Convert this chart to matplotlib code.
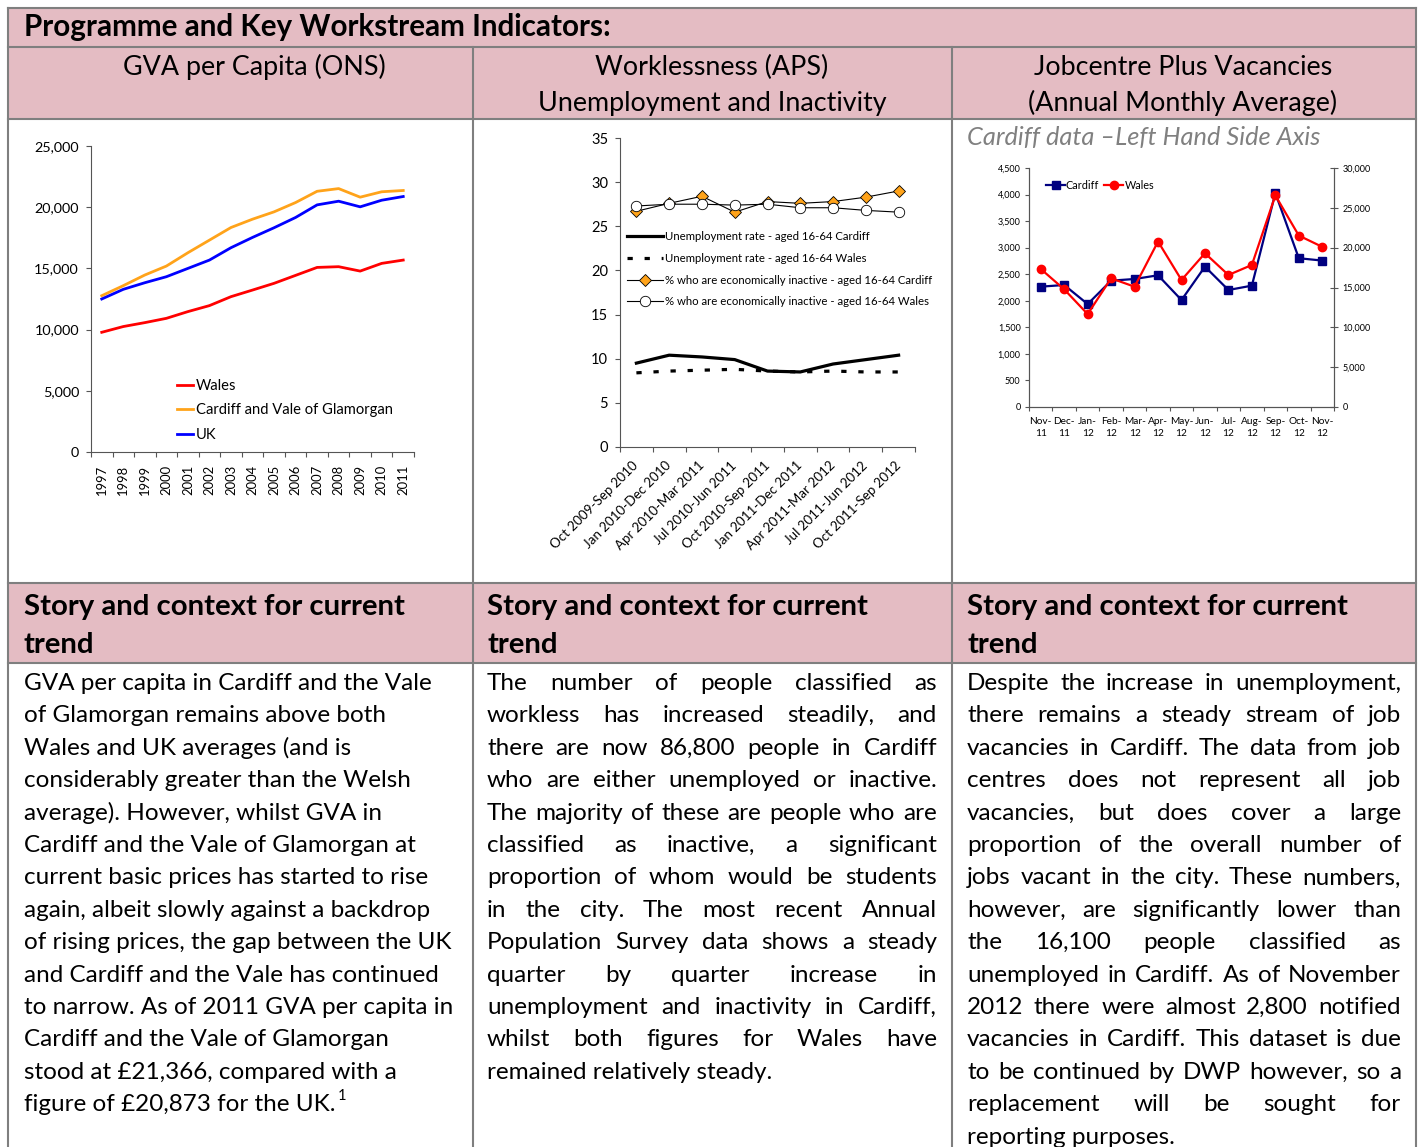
import numpy as np
import matplotlib
matplotlib.use('Agg')
import matplotlib.pyplot as plt
from matplotlib.patches import Rectangle
from matplotlib.ticker import FuncFormatter

W, H = 1421, 1147
plt.rcParams['font.family'] = ['Lato', 'DejaVu Sans']
plt.rcParams['lines.scale_dashes'] = False

# GVA per capita (ONS)
gva_years = ['1997', '1998', '1999', '2000', '2001', '2002', '2003', '2004',
             '2005', '2006', '2007', '2008', '2009', '2010', '2011']
gva_wales = [9780, 10250, 10570, 10920, 11470, 11960, 12690, 13230,
             13780, 14430, 15080, 15140, 14780, 15410, 15680]
gva_cardiff = [12770, 13590, 14460, 15190, 16280, 17310, 18340, 19020,
               19620, 20380, 21300, 21520, 20820, 21260, 21366]
gva_uk = [12500, 13290, 13830, 14320, 15000, 15680, 16690, 17530,
          18320, 19160, 20190, 20490, 20030, 20570, 20873]

# Worklessness (APS)
aps_periods = ['Oct 2009-Sep 2010', 'Jan 2010-Dec 2010', 'Apr 2010-Mar 2011',
               'Jul 2010-Jun 2011', 'Oct 2010-Sep 2011', 'Jan 2011-Dec 2011',
               'Apr 2011-Mar 2012', 'Jul 2011-Jun 2012', 'Oct 2011-Sep 2012']
unemp_cardiff = [9.5, 10.4, 10.2, 9.9, 8.6, 8.5, 9.4, 9.9, 10.4]
unemp_wales = [8.4, 8.6, 8.7, 8.8, 8.6, 8.5, 8.6, 8.5, 8.5]
inact_cardiff = [26.7, 27.6, 28.4, 26.6, 27.8, 27.6, 27.8, 28.3, 29.0]
inact_wales = [27.3, 27.5, 27.5, 27.4, 27.5, 27.1, 27.1, 26.8, 26.6]
aps_names = ['Unemployment rate - aged 16-64 Cardiff',
             'Unemployment rate - aged 16-64 Wales',
             '% who are economically inactive - aged 16-64 Cardiff',
             '% who are economically inactive - aged 16-64 Wales']

# Jobcentre Plus vacancies
jcp_months = ['Nov-\n11', 'Dec-\n11', 'Jan-\n12', 'Feb-\n12', 'Mar-\n12', 'Apr-\n12',
              'May-\n12', 'Jun-\n12', 'Jul-\n12', 'Aug-\n12', 'Sep-\n12', 'Oct-\n12',
              'Nov-\n12']
vac_cardiff = [2266, 2297, 1938, 2379, 2410, 2480, 2014, 2643, 2203, 2285, 4028, 2801, 2757]
vac_wales = [17330, 14770, 11660, 16150, 15100, 20770, 15940, 19300, 16570,
             17830, 26560, 21520, 20100]

title = 'Programme and Key Workstream Indicators:'
headers = [['GVA per Capita (ONS)'],
           ['Worklessness (APS)', 'Unemployment and Inactivity'],
           ['Jobcentre Plus Vacancies', '(Annual Monthly Average)']]
story = ['Story and context for current', 'trend']

text1 = ['GVA per capita in Cardiff and the Vale',
         'of Glamorgan remains above both',
         'Wales and UK averages (and is',
         'considerably greater than the Welsh',
         'average). However, whilst GVA in',
         'Cardiff and the Vale of Glamorgan at',
         'current basic prices has started to rise',
         'again, albeit slowly against a backdrop',
         'of rising prices, the gap between the UK',
         'and Cardiff and the Vale has continued',
         'to narrow. As of 2011 GVA per capita in',
         'Cardiff and the Vale of Glamorgan',
         'stood at £21,366, compared with a',
         'figure of £20,873 for the UK.']
text2 = ['The number of people classified as',
         'workless has increased steadily, and',
         'there are now 86,800 people in Cardiff',
         'who are either unemployed or inactive.',
         'The majority of these are people who are',
         'classified as inactive, a significant',
         'proportion of whom would be students',
         'in the city. The most recent Annual',
         'Population Survey data shows a steady',
         'quarter by quarter increase in',
         'unemployment and inactivity in Cardiff,',
         'whilst both figures for Wales have',
         'remained relatively steady.']
text3 = ['Despite the increase in unemployment,',
         'there remains a steady stream of job',
         'vacancies in Cardiff. The data from job',
         'centres does not represent all job',
         'vacancies, but does cover a large',
         'proportion of the overall number of',
         'jobs vacant in the city. These numbers,',
         'however, are significantly lower than',
         'the 16,100 people classified as',
         'unemployed in Cardiff. As of November',
         '2012 there were almost 2,800 notified',
         'vacancies in Cardiff. This dataset is due',
         'to be continued by DWP however, so a',
         'replacement will be sought for',
         'reporting purposes.']

fig = plt.figure(figsize=(W / 100, H / 100), dpi=100)
fig.patch.set_facecolor('white')
bg = fig.add_axes([0, 0, 1, 1])
bg.set_xlim(0, W)
bg.set_ylim(H, 0)
bg.axis('off')
renderer = fig.canvas.get_renderer()


def text_w(s, size, **kw):
    t = bg.text(0, 0, s, fontsize=size, **kw)
    w = t.get_window_extent(renderer).width
    t.remove()
    return w


def fit(s, px, **kw):
    return 10 * px / text_w(s, 10, **kw)


def px_axes(x0, y0, x1, y1):
    return fig.add_axes([x0 / W, 1 - y1 / H, (x1 - x0) / W, (y1 - y0) / H])


# table
pink = '#e4bcc3'
grey = '#7f7f7f'
for y0, y1 in [(8, 47), (47, 119), (583, 663)]:
    bg.add_patch(Rectangle((8, y0), 1408, y1 - y0, facecolor=pink, edgecolor='none', zorder=0))
for y in [8, 47, 119, 583, 663]:
    bg.plot([8, 1416], [y, y], color=grey, lw=1.5, solid_capstyle='projecting')
bg.plot([8, 8], [8, H], color=grey, lw=1.5)
bg.plot([1416, 1416], [8, H], color=grey, lw=1.5)
for x in [473, 952]:
    bg.plot([x, x], [47, H], color=grey, lw=1.5)

bold_size = fit(title, 590, weight='bold')
bg.text(24, 36, title, fontsize=bold_size, weight='bold', va='baseline')

head_size = fit('Jobcentre Plus Vacancies', 298)
for cx, lines in zip([254, 712, 1183], headers):
    for i, s in enumerate(lines):
        bg.text(cx, 75 + 36 * i, s, fontsize=head_size, ha='center', va='baseline')

story_size = fit(story[0], 384, weight='bold')
for x in [24, 487, 967]:
    bg.text(x, 615, story[0], fontsize=story_size, weight='bold', va='baseline')
    bg.text(x, 653, story[1], fontsize=story_size, weight='bold', va='baseline')

bg.text(967, 145, 'Cardiff data \u2013Left Hand Side Axis', fontsize=fit('Cardiff data \u2013Left Hand Side Axis', 353, style='italic'),
        style='italic', color='#808080', va='baseline')

body = min(fit(text1[0], 408), fit(text2[4], 450), fit(text3[11], 434))
base0, step = 690, 32.4


def para(x0, x1, lines, justify):
    for i, line in enumerate(lines):
        y = base0 + i * step
        words = line.split()
        if not justify or i == len(lines) - 1:
            bg.text(x0, y, line, fontsize=body, va='baseline')
            continue
        ws = [text_w(w, body) for w in words]
        gap = (x1 - x0 - sum(ws)) / (len(words) - 1)
        x = x0
        for w, wd in zip(words, ws):
            bg.text(x, y, w, fontsize=body, va='baseline')
            x += wd + gap


para(24, 465, text1, False)
para(487, 937, text2, True)
para(967, 1401, text3, True)
wl = text_w(text1[-1], body)
bg.text(24 + wl + 2, base0 + 13 * step - 11, '1', fontsize=body * 0.6, va='baseline')

# chart 1: GVA
ax1 = px_axes(91, 146, 414, 452)
x1 = np.arange(len(gva_years))
ax1.plot(x1, gva_wales, color='#ff0000', lw=2, label='Wales')
ax1.plot(x1, gva_cardiff, color='#ffa31a', lw=2, label='Cardiff and Vale of Glamorgan')
ax1.plot(x1, gva_uk, color='#0000ff', lw=2, label='UK')
ax1.set_xlim(-0.5, len(gva_years) - 0.5)
ax1.set_ylim(0, 25000)
ax1.set_yticks(range(0, 25001, 5000))
ax1.yaxis.set_major_formatter(FuncFormatter(lambda v, p: f'{int(v):,}'))
ax1.set_xticks(np.arange(-0.5, len(gva_years), 1))
ax1.set_xticklabels([])
ax1.set_xticks(x1, minor=True)
ax1.set_xticklabels(gva_years, minor=True, rotation=90, fontsize=fit('1997', 30))
ax1.tick_params(axis='x', which='minor', length=0, pad=9)
ax1.tick_params(axis='both', which='major', length=3.6, width=0.8, color='#555555', labelsize=fit('25,000', 45), pad=5)
for s in ['top', 'right']:
    ax1.spines[s].set_visible(False)
for s in ['left', 'bottom']:
    ax1.spines[s].set_color('#555555')
lg1 = fit('Cardiff and Vale of Glamorgan', 197)
lp = lg1 * 100 / 72
ax1.legend(loc='upper left', bbox_to_anchor=(177 / W, 1 - 379 / H), bbox_transform=fig.transFigure,
           frameon=False, borderpad=0, borderaxespad=0, fontsize=lg1, handlelength=16 / lp,
           handletextpad=3 / lp, labelspacing=0.7)

# chart 2: worklessness
ax2 = px_axes(620, 138, 915, 447)
x2 = np.arange(len(aps_periods))
ax2.plot(x2, unemp_cardiff, color='black', lw=2.3, label=aps_names[0])
ax2.plot(x2, unemp_wales, color='black', lw=2.3, dashes=(3.8, 8.5), label=aps_names[1])
ax2.plot(x2, inact_cardiff, color='black', lw=0.8, marker='D', ms=6, mfc='#ffa31a', mec='black',
         mew=0.6, label=aps_names[2])
ax2.plot(x2, inact_wales, color='black', lw=0.8, marker='o', ms=7.5, mfc='white', mec='black',
         mew=0.6, label=aps_names[3])
ax2.set_xlim(-0.5, len(aps_periods) - 0.5)
ax2.set_ylim(0, 35)
ax2.set_yticks(range(0, 36, 5))
ax2.set_xticks(np.arange(-0.5, len(aps_periods), 1))
ax2.set_xticklabels([])
ax2.set_xticks(x2, minor=True)
ax2.set_xticklabels(aps_periods, minor=True, rotation=45, ha='right', va='center',
                    rotation_mode='anchor', fontsize=fit(aps_periods[0], 117))
ax2.tick_params(axis='x', which='minor', length=0, pad=12)
ax2.tick_params(axis='both', which='major', length=3.6, width=0.8, color='#555555', labelsize=fit('35', 17), pad=5)
for s in ['top', 'right']:
    ax2.spines[s].set_visible(False)
for s in ['left', 'bottom']:
    ax2.spines[s].set_color('#555555')
lg2 = fit(aps_names[2], 267)
lp = lg2 * 100 / 72
ax2.legend(loc='upper left', bbox_to_anchor=(627 / W, 1 - 231 / H), bbox_transform=fig.transFigure,
           frameon=False, borderpad=0, borderaxespad=0, fontsize=lg2, handlelength=36 / lp,
           handletextpad=2 / lp, labelspacing=0.95)

# chart 3: vacancies
ax3 = px_axes(1029, 168, 1334, 407)
x3 = np.arange(len(jcp_months))
l1, = ax3.plot(x3, vac_cardiff, color='#000080', lw=1.6, marker='s', ms=6, label='Cardiff')
ax3b = ax3.twinx()
l2, = ax3b.plot(x3, vac_wales, color='#ff0000', lw=1.6, marker='o', ms=6, label='Wales')
ax3.set_xlim(-0.5, len(jcp_months) - 0.5)
ax3.set_ylim(0, 4500)
ax3b.set_ylim(0, 30000)
ax3.set_yticks(range(0, 4501, 500))
ax3b.set_yticks(range(0, 30001, 5000))
fmt = FuncFormatter(lambda v, p: f'{int(v):,}')
ax3.yaxis.set_major_formatter(fmt)
ax3b.yaxis.set_major_formatter(fmt)
tick3 = fit('30,000', 28)
ax3.set_xticks(np.arange(-0.5, len(jcp_months), 1))
ax3.set_xticklabels([])
ax3.set_xticks(x3, minor=True)
ax3.set_xticklabels(jcp_months, minor=True, fontsize=tick3 * 1.12, linespacing=1.45)
ax3.tick_params(axis='x', which='minor', length=0, pad=7)
ax3.tick_params(axis='both', which='major', length=3, width=0.8, color='#555555', labelsize=tick3, pad=3)
ax3b.tick_params(axis='y', which='major', direction='inout', length=6, width=0.8, color='#555555',
                 labelsize=tick3, pad=3)
for a in [ax3, ax3b]:
    a.spines['top'].set_visible(False)
    for s in ['left', 'bottom', 'right']:
        a.spines[s].set_color('#555555')
lg3 = fit('Cardiff', 33)
lp = lg3 * 100 / 72
ax3b.legend([l1, l2], ['Cardiff', 'Wales'], loc='upper left', ncol=2,
            bbox_to_anchor=(1046 / W, 1 - 180 / H), bbox_transform=fig.transFigure,
            frameon=False, borderpad=0, borderaxespad=0, fontsize=lg3, handlelength=19 / lp,
            handletextpad=1 / lp, columnspacing=5 / lp)

fig.savefig('out.png', dpi=100)
